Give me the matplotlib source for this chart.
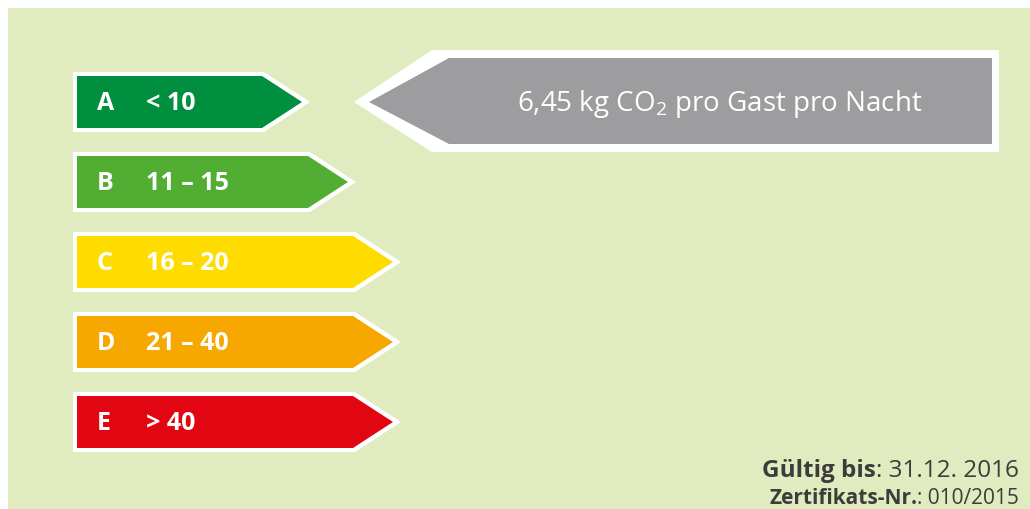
import matplotlib
matplotlib.use("Agg")
import matplotlib.pyplot as plt
from matplotlib.patches import Polygon, Rectangle

# classes and ranges (kg CO2 per guest per night)
letters = ["A", "B", "C", "D", "E"]
ranges = ["< 10", "11 – 15", "16 – 20", "21 – 40", "> 40"]
colors = ["#008F3F", "#52AE32", "#FFDC00", "#F6A800", "#E20613"]
bar_ends = [262, 308, 353, 353, 353]   # where the square part of each arrow stops

value_text = "6,45 kg CO$_\\mathregular{2}$ pro Gast pro Nacht"
valid_label = "Gültig bis"
valid_value = ": 31.12. 2016"
cert_label = "Zertifikats-Nr."
cert_value = ": 010/2015"

bg = "#E0ECC0"
grey = "#9D9D9F"
dark = "#3C3C3B"

plt.rcParams['font.family'] = ['Open Sans', 'DejaVu Sans']

fig = plt.figure(figsize=(10.3, 5.1), dpi=100)
ax = fig.add_axes([0, 0, 1, 1])
ax.set_xlim(0, 1030)
ax.set_ylim(510, 0)
ax.axis("off")

ax.add_patch(Rectangle((8, 9), 1030, 510, facecolor=bg, edgecolor="none"))

# the five class arrows
for i in range(len(letters)):
    top = 73 + i * 80
    bot = top + 60
    mid = (top + bot) / 2
    re = bar_ends[i]
    tip = re + 40
    outer = [(73, top), (re + 2, top), (tip + 8, mid), (re + 2, bot), (73, bot)]
    inner = [(77, top + 4), (re, top + 4), (tip, mid), (re, bot - 4), (77, bot - 4)]
    ax.add_patch(Polygon(outer, closed=True, facecolor="white", edgecolor="none"))
    ax.add_patch(Polygon(inner, closed=True, facecolor=colors[i], edgecolor="none"))
    ax.text(97, mid + 1, letters[i], color="white", fontsize=18, fontweight="bold",
            ha="left", va="center")
    ax.text(146, mid + 1, ranges[i], color="white", fontsize=18, fontweight="bold",
            ha="left", va="center")

# grey value arrow
outer = [(354, 103), (432, 51), (999, 51), (999, 153), (432, 153)]
inner = [(369, 103), (449, 59), (992, 59), (992, 145), (449, 145)]
ax.add_patch(Polygon(outer, closed=True, facecolor="white", edgecolor="none"))
ax.add_patch(Polygon(inner, closed=True, facecolor=grey, edgecolor="none"))
ax.text(720, 104, value_text, color="white", fontsize=20, ha="center", va="center")

# validity footer, bold label + regular value, right aligned
renderer = fig.canvas.get_renderer()
inv = ax.transData.inverted()


def footer(y, label, value, size):
    t = ax.text(1019, y, value, color=dark, fontsize=size, ha="right", va="baseline")
    bb = t.get_window_extent(renderer)
    x0 = inv.transform((bb.x0, bb.y0))[0]
    ax.text(x0, y, label, color=dark, fontsize=size, fontweight="bold",
            ha="right", va="baseline")


footer(477, valid_label, valid_value, 17.5)
footer(504, cert_label, cert_value, 15)

fig.savefig("out.png", dpi=100)
